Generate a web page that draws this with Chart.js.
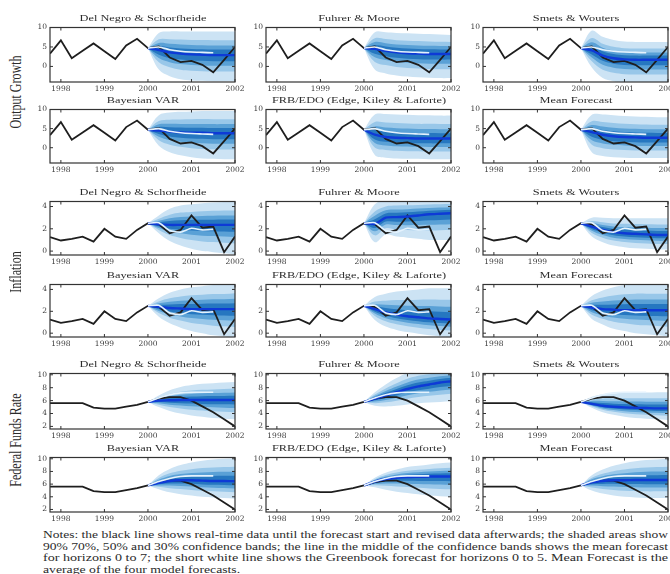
<!DOCTYPE html>
<html><head><meta charset="utf-8">
<script src="https://cdn.jsdelivr.net/npm/chart.js@4.4.1/dist/chart.umd.min.js"></script>
<style>
html,body{margin:0;padding:0;background:#fff;}
body{width:670px;height:574px;overflow:hidden;position:relative;}
canvas{position:absolute;display:block;}
.t{position:absolute;white-space:nowrap;font-family:"Liberation Serif","Times New Roman",serif;color:#2b2b2b;line-height:1;}
</style></head><body>
<script>
// ---------------- DATA ----------------
const quarters = [1997.75,1998,1998.25,1998.5,1998.75,1999,1999.25,1999.5,1999.75,2000,2000.25,2000.5,2000.75,2001,2001.25,2001.5,2001.75,2002];
const forecastQuarters = [2000,2000.25,2000.5,2000.75,2001,2001.25,2001.5,2001.75,2002];
const greenbookQuarters = [2000,2000.25,2000.5,2000.75,2001,2001.25,2001.5];
const yearTicks = [1998,1999,2000,2001,2002];
const yearLabels = ['1998','1999','2000','2001','2002'];
const modelNames = ['Del Negro & Schorfheide','Fuhrer & Moore','Smets & Wouters','Bayesian VAR','FRB/EDO (Edge, Kiley & Laforte)','Mean Forecast'];
const variableNames = ['Output Growth','Inflation','Federal Funds Rate'];

const outputTicks = [0,5,10];
const inflationTicks = [0,2,4];
const ffrTicks = [2,4,6,8,10];
const outputRange = [-4,10];
const inflationRange = [-0.35,4.45];
const ffrRange = [1.6,10.2];

const actualOutput = [3.3,6.7,2.1,4.0,5.9,3.9,1.9,5.4,7.1,4.7,5.1,2.3,1.1,1.4,0.4,-1.5,1.7,5.0];
const actualInflation = [1.25,0.95,1.1,1.3,0.85,2.0,1.3,1.1,1.9,2.5,2.4,1.6,1.9,3.2,2.1,2.2,-0.1,1.3];
const actualFFR = [5.6,5.6,5.6,5.6,4.9,4.75,4.75,5.05,5.35,5.8,6.3,6.55,6.55,6.0,5.1,4.2,3.1,2.0];

const greenbookOutput = [4.7,5.0,4.3,3.9,3.7,3.6,3.5];
const greenbookInflation = [2.5,2.55,1.85,1.7,2.05,1.9,1.95];
const greenbookFFR = [5.8,6.4,6.9,7.2,7.3,7.3,7.3];

// order of rows: DNS, FM, SW, BVAR, FRB/EDO, Mean
const outputMean = [
 [4.7,4.2,3.6,3.3,3.1,3.0,2.9,2.9,2.9],
 [4.7,4.5,4.0,3.6,3.4,3.3,3.2,3.2,3.2],
 [4.7,4.1,2.8,2.1,1.8,1.7,1.7,1.7,1.7],
 [4.7,4.5,4.2,4.0,3.9,3.9,3.8,3.8,3.8],
 [4.7,3.4,2.8,2.6,2.5,2.4,2.4,2.4,2.4],
 [4.7,4.1,3.4,3.0,2.8,2.7,2.6,2.6,2.6]];
const outputUpper90 = [
 [4.7,8.6,9.0,9.0,9.0,9.0,9.0,9.0,9.0],
 [4.7,8.8,8.8,8.6,8.5,8.4,8.3,8.2,8.1],
 [4.7,9.2,7.6,6.8,6.4,6.3,6.3,6.3,6.3],
 [4.7,8.5,9.2,9.4,9.5,9.6,9.6,9.6,9.6],
 [4.7,8.7,8.8,8.7,8.6,8.5,8.5,8.4,8.4],
 [4.7,8.6,8.7,8.5,8.3,8.2,8.1,8.0,8.0]];
const outputLower90 = [
 [4.7,-0.8,-2.5,-3.3,-3.6,-3.7,-3.8,-3.8,-3.8],
 [4.7,-0.8,-1.8,-2.3,-2.6,-2.8,-2.9,-3.0,-3.0],
 [4.7,-0.3,-3.0,-3.8,-4.2,-4.3,-4.3,-4.3,-4.3],
 [4.7,0.5,-1.2,-2.0,-2.5,-2.8,-2.9,-3.0,-3.0],
 [4.7,-1.9,-2.6,-2.8,-2.9,-2.9,-3.0,-3.0,-3.0],
 [4.7,-1.2,-2.2,-2.5,-2.6,-2.7,-2.7,-2.7,-2.7]];

const inflationMean = [
 [2.5,2.4,2.35,2.35,2.35,2.35,2.35,2.35,2.35],
 [2.5,2.45,3.0,3.05,3.1,3.2,3.3,3.35,3.4],
 [2.5,2.2,1.9,1.7,1.6,1.55,1.5,1.45,1.45],
 [2.5,2.4,2.3,2.25,2.2,2.2,2.2,2.2,2.2],
 [2.5,2.2,1.9,1.7,1.55,1.45,1.35,1.3,1.25],
 [2.5,2.35,2.2,2.15,2.1,2.1,2.1,2.1,2.1]];
const inflationUpper90 = [
 [2.5,3.2,3.8,4.1,4.2,4.3,4.35,4.4,4.4],
 [2.5,4.2,4.6,4.7,4.7,4.7,4.7,4.7,4.7],
 [2.5,3.0,3.0,2.95,2.95,2.95,2.95,2.95,2.95],
 [2.5,3.2,3.7,4.0,4.2,4.3,4.4,4.4,4.5],
 [2.5,3.3,3.6,3.8,3.9,4.0,4.1,4.1,4.1],
 [2.5,3.4,3.9,4.2,4.4,4.5,4.5,4.5,4.5]];
const inflationLower90 = [
 [2.5,1.6,0.9,0.5,0.2,0.0,-0.1,-0.2,-0.3],
 [2.5,0.8,1.5,1.3,1.2,1.1,1.0,1.0,1.0],
 [2.5,1.3,0.8,0.5,0.35,0.25,0.2,0.15,0.15],
 [2.5,1.5,0.9,0.5,0.2,0.0,-0.2,-0.3,-0.4],
 [2.5,1.2,0.6,0.3,0.1,-0.05,-0.2,-0.3,-0.35],
 [2.5,1.3,0.8,0.4,0.2,0.0,-0.1,-0.2,-0.3]];

const ffrMean = [
 [5.8,6.0,6.05,6.1,6.1,6.1,6.1,6.1,6.1],
 [5.8,6.3,6.8,7.3,7.8,8.2,8.5,8.8,9.0],
 [5.8,5.5,5.2,5.05,4.95,4.9,4.85,4.8,4.8],
 [5.8,6.2,6.5,6.6,6.6,6.55,6.5,6.5,6.45],
 [5.8,6.4,6.8,7.0,7.1,7.15,7.2,7.2,7.2],
 [5.8,6.3,6.5,6.6,6.6,6.65,6.65,6.65,6.65]];
const ffrUpper90 = [
 [5.8,6.8,7.6,8.1,8.4,8.6,8.7,8.8,8.9],
 [5.8,7.3,8.5,9.5,10.3,10.8,11.0,11.2,11.3],
 [5.8,6.6,7.0,7.1,7.2,7.2,7.25,7.3,7.3],
 [5.8,7.4,8.4,9.0,9.4,9.7,9.9,10.0,10.1],
 [5.8,7.0,7.8,8.3,8.7,8.9,9.1,9.3,9.4],
 [5.8,7.4,8.3,8.9,9.3,9.6,9.8,9.9,10.0]];
const ffrLower90 = [
 [5.8,5.0,4.4,4.0,3.7,3.5,3.3,3.2,3.1],
 [5.8,5.2,5.1,5.2,5.4,5.6,5.7,5.8,5.9],
 [5.8,4.9,4.2,3.8,3.5,3.3,3.2,3.1,3.0],
 [5.8,5.2,4.7,4.4,4.2,4.0,3.9,3.8,3.7],
 [5.8,5.5,5.1,4.8,4.6,4.4,4.2,4.1,4.0],
 [5.8,5.0,4.5,4.2,4.0,3.9,3.8,3.8,3.8]];

// confidence levels 90/70/50/30 as normal quantiles
const bandZ = [1.645,1.036,0.674,0.385];

const noteLines = [
 'Notes: the black line shows real-time data until the forecast start and revised data afterwards; the shaded areas show',
 '90% 70%, 50% and 30% confidence bands; the line in the middle of the confidence bands shows the mean forecast',
 'for horizons 0 to 7; the short white line shows the Greenbook forecast for horizons 0 to 5.  Mean Forecast is the',
 'average of the four model forecasts.'
];

// ---------------- LAYOUT / STYLE ----------------
const L = 22, T = 6, R = 14, B = 15, FW = 185;
const colLeft = [50,266,483];
const rowTop = [26,108,200,283,372,456];
const rowBottom = [82,163,255,337,429,512];
const bandColors = ['rgb(204,227,244)','rgb(152,199,233)','rgb(90,161,214)','rgb(38,119,192)'];
const tickFont = {family:'DejaVu Serif', size:7.5};
const tickColor = '#3a3a3a';

const variables = [
 {actual:actualOutput, gb:greenbookOutput, mean:outputMean, up:outputUpper90, lo:outputLower90, ticks:outputTicks, range:outputRange},
 {actual:actualInflation, gb:greenbookInflation, mean:inflationMean, up:inflationUpper90, lo:inflationLower90, ticks:inflationTicks, range:inflationRange},
 {actual:actualFFR, gb:greenbookFFR, mean:ffrMean, up:ffrUpper90, lo:ffrLower90, ticks:ffrTicks, range:ffrRange}
];

const framePlugin = {
  id:'frame',
  afterDraw(chart){
    const {ctx, chartArea:a, scales:{x, y}} = chart;
    ctx.save();
    ctx.strokeStyle = '#333'; ctx.lineWidth = 1.2;
    ctx.strokeRect(a.left, a.top, a.right-a.left, a.bottom-a.top);
    ctx.lineWidth = 1;
    ctx.beginPath();
    x.ticks.forEach(t=>{const p=x.getPixelForValue(t.value); ctx.moveTo(p,a.bottom); ctx.lineTo(p,a.bottom-3); ctx.moveTo(p,a.top); ctx.lineTo(p,a.top+3);});
    y.ticks.forEach(t=>{const p=y.getPixelForValue(t.value); ctx.moveTo(a.left,p); ctx.lineTo(a.left+3,p); ctx.moveTo(a.right,p); ctx.lineTo(a.right-3,p);});
    ctx.stroke();
    ctx.restore();
  }
};

function pts(xs, ys){ return xs.map((x,i)=>({x:x, y:ys[i]})); }

function addText(txt, cx, cy, size, transform){
  const d = document.createElement('div');
  d.className = 't';
  d.textContent = txt;
  d.style.fontSize = size + 'px';
  d.style.left = cx + 'px';
  d.style.top = cy + 'px';
  d.style.transform = 'translate(-50%,-50%) ' + transform;
  document.body.appendChild(d);
  return d;
}

function makePanel(v, m){
  const V = variables[v];
  const row = v*2 + (m>=3 ? 1 : 0);
  const col = m % 3;
  const H = rowBottom[row] - rowTop[row];
  const cv = document.createElement('canvas');
  const W = L + FW + R, Hc = T + H + B;
  cv.width = W; cv.height = Hc;
  cv.style.width = W+'px'; cv.style.height = Hc+'px';
  cv.style.left = (colLeft[col]-L)+'px';
  cv.style.top = (rowTop[row]-T)+'px';
  document.body.appendChild(cv);

  const mean = V.mean[m], up = V.up[m], lo = V.lo[m];
  const ds = [];
  ds.push({data:pts(greenbookQuarters, V.gb), borderColor:'rgb(228,242,253)', borderWidth:1.6, pointRadius:0, fill:false, order:0, tension:0.2, clip:0});
  ds.push({data:pts(forecastQuarters, mean), borderColor:'rgb(14,58,214)', borderWidth:2.4, pointRadius:0, fill:false, order:1, tension:0.25, clip:0});
  ds.push({data:pts(quarters, V.actual), borderColor:'#1e1e1e', borderWidth:1.8, pointRadius:0, fill:false, order:2, tension:0, clip:0});
  for (let b=3; b>=0; b--){
    const k = bandZ[b]/bandZ[0];
    const upper = mean.map((mv,i)=> mv + k*(up[i]-mv));
    const lower = mean.map((mv,i)=> mv - k*(mv-lo[i]));
    const ui = ds.length;
    ds.push({data:pts(forecastQuarters, upper), borderColor:'transparent', borderWidth:0, pointRadius:0, fill:{target:ui+1}, backgroundColor:bandColors[b], order:3+(3-b), tension:0.35, clip:0});
    ds.push({data:pts(forecastQuarters, lower), borderColor:'transparent', borderWidth:0, pointRadius:0, fill:false, order:3+(3-b), tension:0.35, clip:0});
  }

  new Chart(cv, {
    type:'line',
    data:{datasets:ds},
    options:{
      responsive:false, animation:false, devicePixelRatio:1, events:[],
      layout:{padding:{top:T, right:R, bottom:0, left:0}},
      plugins:{legend:{display:false}, tooltip:{enabled:false}, title:{display:false}},
      scales:{
        x:{type:'linear', min:quarters[0], max:quarters[quarters.length-1],
           afterBuildTicks:s=>{ s.ticks = yearTicks.map(val=>({value:val})); },
           afterFit:s=>{ s.height = B; },
           ticks:{callback:(val,i)=>yearLabels[i], font:tickFont, color:tickColor, padding:3, maxRotation:0, autoSkip:false},
           grid:{display:false, drawTicks:false}, border:{display:false}},
        y:{type:'linear', min:V.range[0], max:V.range[1],
           afterBuildTicks:s=>{ s.ticks = V.ticks.map(val=>({value:val})); },
           afterFit:s=>{ s.width = L; },
           ticks:{callback:(val)=>String(val), font:tickFont, color:tickColor, padding:3, autoSkip:false},
           grid:{display:false, drawTicks:false}, border:{display:false}}
      }
    },
    plugins:[framePlugin]
  });

  addText(modelNames[m], colLeft[col] + FW/2, rowTop[row] - 8, 8.5, 'scaleX(1.45)');
}

for (let v=0; v<3; v++) for (let m=0; m<6; m++) makePanel(v, m);

// row labels
const rowLabelY = [92, 272, 440];
variableNames.forEach((n,i)=> addText(n, 16, rowLabelY[i], 12, 'rotate(-90deg) scaleY(1.35)'));

// notes
const noteY = [535, 546.5, 558, 569.5];
const scales = [];
noteLines.forEach((txt,i)=>{
  const d = document.createElement('div');
  d.className = 't';
  d.textContent = txt;
  d.style.fontSize = '10px';
  d.style.left = '43px';
  d.style.top = (noteY[i]-5)+'px';
  d.style.transformOrigin = '0 50%';
  document.body.appendChild(d);
  const w = d.getBoundingClientRect().width;
  let s = 625 / w;
  if (i < 3) scales.push(s); else s = scales.reduce((a,b)=>a+b,0)/scales.length;
  d.style.transform = 'scaleX(' + s + ')';
});
</script>
</body></html>
